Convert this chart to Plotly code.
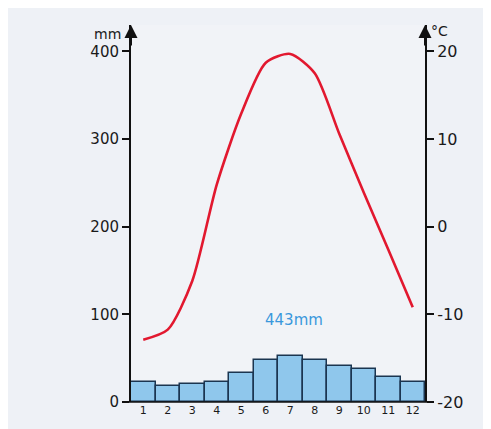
import plotly.graph_objects as go

months = [1, 2, 3, 4, 5, 6, 7, 8, 9, 10, 11, 12]
month_labels = [str(m) for m in months]
precip_mm = [23, 18, 20, 23, 33, 48, 53, 48, 41, 38, 29, 23]
temp_c = [-12.9, -11.75, -6.2, 4.8, 12.9, 18.7, 19.7, 17.5, 10.6, 3.9, -2.6, -9.2]
total_label = "443mm"
mm_ticks = [0, 100, 200, 300, 400]
c_ticks = [-20, -10, 0, 10, 20]

FONT = "DejaVu Sans"

fig = go.Figure()
fig.add_trace(go.Bar(
    x=months, y=precip_mm,
    marker=dict(color="#8fc7ec", line=dict(color="#1b3550", width=1.5)),
    yaxis="y", showlegend=False,
))
fig.add_trace(go.Scatter(
    x=months, y=temp_c, mode="lines",
    line=dict(color="#e2182f", width=2.6, shape="spline", smoothing=0.7),
    yaxis="y2", showlegend=False,
))

axis_font = dict(family=FONT, size=15, color="#1a1a1a")
fig.update_layout(
    width=483, height=421,
    margin=dict(l=123, r=66, t=17, b=23),
    paper_bgcolor="#eef1f6",
    plot_bgcolor="#f1f3f7",
    bargap=0,
    xaxis=dict(
        range=[0.5, 12.5], tickvals=months, ticktext=month_labels,
        showgrid=False, zeroline=False, showline=False, ticks="",
        tickfont=dict(family=FONT, size=11, color="#1a1a1a"),
        fixedrange=True,
    ),
    yaxis=dict(
        range=[0, 430], tickvals=mm_ticks, ticktext=[str(v) for v in mm_ticks],
        showgrid=False, zeroline=False, showline=True, linecolor="#111111", linewidth=2,
        ticks="outside", ticklen=7, tickwidth=1.5, tickcolor="#111111",
        tickfont=axis_font,
    ),
    yaxis2=dict(
        range=[-20, 23], tickvals=c_ticks, ticktext=[str(v) for v in c_ticks],
        overlaying="y", side="right",
        showgrid=False, zeroline=False, showline=True, linecolor="#111111", linewidth=2,
        ticks="outside", ticklen=7, tickwidth=1.5, tickcolor="#111111",
        tickfont=dict(family=FONT, size=16, color="#1a1a1a"),
    ),
    shapes=[
        dict(type="line", xref="paper", yref="paper", x0=-0.03, x1=1.03, y0=0, y1=0,
             line=dict(color="#111111", width=1.5)),
    ],
    annotations=[
        dict(xref="paper", yref="paper", x=0, y=1.0, ax=0, ay=22, text="",
             showarrow=True, arrowhead=2, arrowsize=1.3, arrowwidth=2, arrowcolor="#111111"),
        dict(xref="paper", yref="paper", x=1, y=1.0, ax=0, ay=22, text="",
             showarrow=True, arrowhead=2, arrowsize=1.3, arrowwidth=2, arrowcolor="#111111"),
        dict(xref="paper", yref="paper", x=0, y=1.0, xanchor="right", yanchor="middle",
             xshift=-8, yshift=-9, text="mm", showarrow=False,
             font=dict(family=FONT, size=14, color="#1a1a1a")),
        dict(xref="paper", yref="paper", x=1, y=1.0, xanchor="left", yanchor="middle",
             xshift=4, yshift=-6, text="°C", showarrow=False,
             font=dict(family=FONT, size=14, color="#1a1a1a")),
        dict(xref="x", yref="y", x=7.15, y=93, text=total_label, showarrow=False,
             font=dict(family=FONT, size=15, color="#3a98dc")),
    ],
)

fig.write_html("out.html")
